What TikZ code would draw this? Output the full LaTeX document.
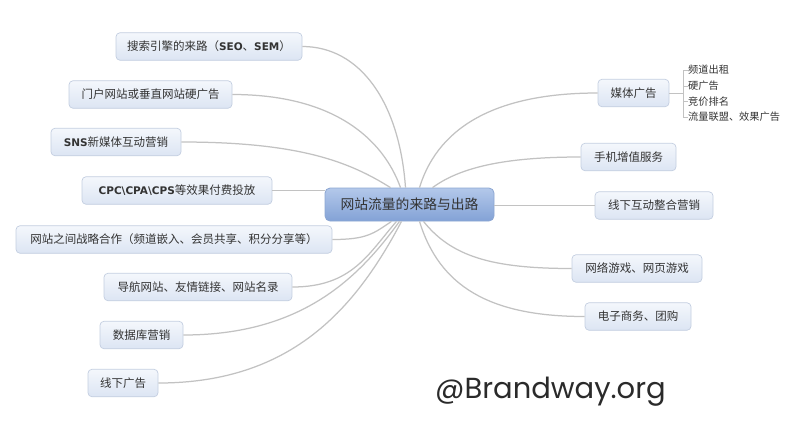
\documentclass[tikz,border=0pt]{standalone}
\usepackage{fontspec}
\setmainfont{Noto Sans CJK SC}
\newfontfamily\latb{DejaVu Sans}
\newfontfamily\wmfont{Poppins}
\usetikzlibrary{calc}
\definecolor{txt}{HTML}{333333}
\definecolor{bordc}{HTML}{C3CEE0}
\definecolor{btop}{HTML}{F4F7FC}
\definecolor{bbot}{HTML}{DCE5F3}
\definecolor{ctop}{HTML}{B3C8EA}
\definecolor{cbot}{HTML}{83A2D6}
\definecolor{cbord}{HTML}{8CA6D2}
\definecolor{linkc}{HTML}{C2C2C2}
\definecolor{wmc}{HTML}{2A2A2A}
\newcommand{\LB}[1]{{\latb\bfseries\fontsize{10.5}{12}\selectfont #1}}
\begin{document}
\begin{tikzpicture}[x=1pt,y=-1pt,
  branch/.style={draw=bordc, line width=0.7pt, rounded corners=4pt, top color=btop, bottom color=bbot,
    text=txt, font=\fontsize{11.5}{13}\selectfont, inner sep=0pt, minimum height=27.5pt},
  central/.style={draw=cbord, line width=0.8pt, rounded corners=5pt, top color=ctop, bottom color=cbot,
    text=txt, font=\fontsize{13.8}{15}\selectfont, inner sep=0pt, minimum width=169pt, minimum height=33pt},
  sub/.style={anchor=west, inner sep=0pt, text=txt, font=\fontsize{10.2}{11}\selectfont},
  link/.style={draw=linkc, line width=1.25pt},
  thin/.style={draw=linkc, line width=0.7pt}
]
\useasboundingbox (0,0) rectangle (800,432);

% central node
\node[central] (c) at (409.5,204.5) {网站流量的来路与出路};

% left branches
\node[branch, minimum width=186pt] (l1) at (209,46.5) {搜索引擎的来路（\LB{SEO}、\LB{SEM}）};
\node[branch, minimum width=163pt] (l2) at (150.5,94.5) {门户网站或垂直网站硬广告};
\node[branch, minimum width=130pt] (l3) at (116,142) {\LB{SNS}新媒体互动营销};
\node[branch, minimum width=190pt] (l4) at (177,190.5) {\LB{CPC\textbackslash CPA\textbackslash CPS}等效果付费投放};
\node[branch, minimum width=316pt] (l5) at (174,239.5) {网站之间战略合作（频道嵌入、会员共享、积分分享等）};
\node[branch, minimum width=188pt] (l6) at (198,287) {导航网站、友情链接、网站名录};
\node[branch, minimum width=83pt] (l7) at (141.5,335) {数据库营销};
\node[branch, minimum width=70pt] (l8) at (123,383) {线下广告};

% right branches
\node[branch, minimum width=71pt] (r1) at (633.5,93) {媒体广告};
\node[branch, minimum width=95pt] (r2) at (628.5,157) {手机增值服务};
\node[branch, minimum width=118pt] (r3) at (654,205.5) {线下互动整合营销};
\node[branch, minimum width=130pt] (r4) at (637,268.5) {网络游戏、网页游戏};
\node[branch, minimum width=106pt] (r5) at (638,316.5) {电子商务、团购};

% sub items of r1
\node[sub] (s1) at (688,70) {频道出租};
\node[sub] (s2) at (688,86) {硬广告};
\node[sub] (s3) at (688,101.5) {竞价排名};
\node[sub] (s4) at (688,117) {流量联盟、效果广告};
\coordinate (bk) at (683,93);
\draw[thin] (r1.east) -- (bk);
\draw[thin] (s1.west) -| (bk);
\draw[thin] (s4.west) -| (bk);
\draw[thin] (s2.west) -- (s2.west -| bk);
\draw[thin] (s3.west) -- (s3.west -| bk);

% connection points on central node
\coordinate (t1) at ($(c.north)+(-4,0)$);
\coordinate (t2) at ($(c.north)+(-9,0)$);
\coordinate (t3) at ($(c.north)+(-19,0)$);
\coordinate (t4) at ($(c.north)+(10,0)$);
\coordinate (t5) at ($(c.north)+(23,0)$);
\coordinate (b5) at ($(c.south)+(-18,0)$);
\coordinate (b6) at ($(c.south)+(-13,0)$);
\coordinate (b7) at ($(c.south)+(-10,0)$);
\coordinate (b8) at ($(c.south)+(-8,0)$);
\coordinate (b9) at ($(c.south)+(14,0)$);
\coordinate (b10) at ($(c.south)+(10,0)$);

% connectors left
\draw[link] (l1.east) .. controls +(58,0) and +(-6,-85) .. (t1);
\draw[link] (l2.east) .. controls +(100,0) and +(-18,-50) .. (t2);
\draw[link] (l3.east) .. controls +(120,0) and +(-40,-25) .. (t3);
\draw[link] (l4.east) -- (l4.east -| c.west);
\draw[link] (l5.east) .. controls +(35,0) and +(-18,12) .. (b5);
\draw[link] (l6.east) .. controls +(60,0) and +(-28,32) .. (b6);
\draw[link] (l7.east) .. controls +(120,0) and +(-40,55) .. (b7);
\draw[link] (l8.east) .. controls +(135,0) and +(-45,85) .. (b8);

% connectors right
\draw[link] (t4) .. controls +(20,-65) and +(-95,0) .. (r1.west);
\draw[link] (t5) .. controls +(30,-22) and +(-70,0) .. (r2.west);
\draw[link] (c.east |- r3.west) -- (r3.west);
\draw[link] (b9) .. controls +(28,35) and +(-80,0) .. (r4.west);
\draw[link] (b10) .. controls +(20,65) and +(-95,0) .. (r5.west);

% watermark
\node[anchor=base west, inner sep=0pt, text=wmc, font=\wmfont\fontsize{29}{32}\selectfont] (wm) at (435,398) {@Brandway.org};
\end{tikzpicture}
\end{document}
